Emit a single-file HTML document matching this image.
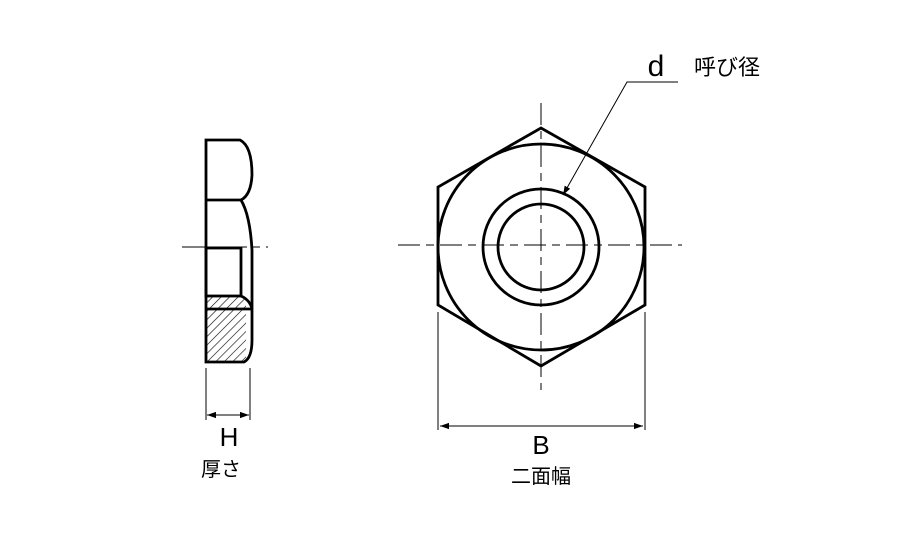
<!DOCTYPE html>
<html><head><meta charset="utf-8"><style>
html,body{margin:0;padding:0;background:#fff;}
svg{display:block}
text{font-family:"Liberation Sans","Noto Sans CJK JP",sans-serif;fill:#000}
</style></head><body>
<svg width="900" height="540" viewBox="0 0 900 540">
<defs>
<pattern id="h" width="6" height="6" patternUnits="userSpaceOnUse" patternTransform="rotate(45)">
<line x1="0" y1="0" x2="0" y2="6" stroke="#000" stroke-width="1.2"/>
</pattern>
<marker id="a" viewBox="0 0 10 10" refX="10" refY="5" markerWidth="9" markerHeight="9" orient="auto-start-reverse" markerUnits="userSpaceOnUse"><path d="M0,1.5 L10,5 L0,8.5 Z" fill="#000"/></marker>
</defs>
<!-- side view -->
<rect x="206" y="296" width="40" height="66" fill="url(#h)"/>
<g fill="none" stroke="#000" stroke-width="2.8">
<path d="M206,140 H240 Q252,146 252,175 Q251,195 241,200 Q250,215 252,250 V340 Q252,358 244,362 H206 Z"/>
<line x1="206" y1="200" x2="241" y2="200"/>
<rect x="206" y="248" width="35" height="48"/>
<line x1="206" y1="309" x2="252" y2="309"/>
<path d="M241,296 Q250,300 252,309"/>
</g>
<g stroke="#000" stroke-width="1">
<line x1="182" y1="247" x2="247" y2="247"/>
<line x1="252" y1="247" x2="268" y2="247" stroke-dasharray="8,6"/>
<line x1="206" y1="368" x2="206" y2="420"/>
<line x1="250" y1="368" x2="250" y2="420"/>
<line x1="207" y1="415" x2="249" y2="415" marker-start="url(#a)" marker-end="url(#a)"/>
</g>
<!-- front view -->
<g fill="none" stroke="#000" stroke-width="2.8">
<polygon points="541,128 645,187 645,305 541,366 438,305 438,187"/>
<circle cx="541" cy="247" r="103"/>
<circle cx="541" cy="247" r="58"/>
<circle cx="541" cy="247" r="43"/>
</g>
<g stroke="#000" stroke-width="1" fill="none">
<line x1="541" y1="103" x2="541" y2="390" stroke-dasharray="22,6,8,6"/>
<line x1="398" y1="245" x2="682" y2="245" stroke-dasharray="22,6,8,6"/>
<line x1="438" y1="312" x2="438" y2="430"/>
<line x1="645" y1="312" x2="645" y2="430"/>
<line x1="440" y1="426" x2="643" y2="426" marker-start="url(#a)" marker-end="url(#a)"/>
<polyline points="678,82 627,82 563,195" marker-end="url(#a)"/>
</g>
<text x="229" y="446" font-size="26" text-anchor="middle">H</text>
<text x="221" y="476" font-size="20" text-anchor="middle">厚さ</text>
<text x="541" y="454" font-size="26" text-anchor="middle">B</text>
<text x="541" y="483" font-size="20" text-anchor="middle">二面幅</text>
<text x="656" y="76" font-size="30" text-anchor="middle">d</text>
<text x="727" y="75" font-size="22" text-anchor="middle">呼び径</text>
</svg>
</body></html>
